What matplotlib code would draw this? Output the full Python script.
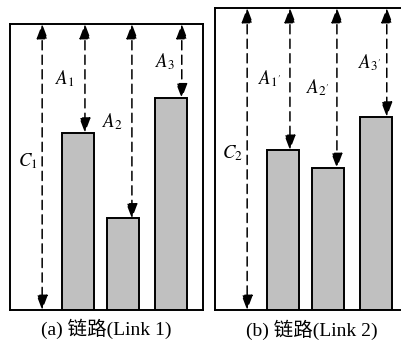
import matplotlib
matplotlib.use("Agg")
import matplotlib.pyplot as plt

plt.rcParams['font.family'] = ['Liberation Serif', 'Noto Sans CJK SC', 'DejaVu Sans']
plt.rcParams['mathtext.fontset'] = 'stix'

# bar heights per link, box top is the link capacity
capacity = [10.0, 10.0]
bars_link1 = [6.2, 3.2, 7.4]
bars_link2 = [5.3, 4.7, 6.4]
bar_labels_link1 = [r'$A_1$', r'$A_2$', r'$A_3$']
bar_labels_link2 = [r"$A_{1'}$", r"$A_{2'}$", r"$A_{3'}$"]
cap_labels = [r'$C_1$', r'$C_2$']
captions = ['(a) 链路(Link 1)', '(b) 链路(Link 2)']

xpos = [2.11, 3.51, 5.0]
cap_x = 1.0
arrow_dx = [0.22, 0.28, 0.34]
label_dx = [-0.64, -0.6, -0.52]


def dashed_arrow(ax, x, y0, y1):
    ax.annotate('', xy=(x, y0), xytext=(x, y1),
                arrowprops=dict(arrowstyle='<|-|>,head_length=0.9,head_width=0.34',
                                mutation_scale=10, color='black', lw=1.1,
                                linestyle=(0, (6, 3.5)), shrinkA=0, shrinkB=0))


def panel(ax, heights, labels, cap, cap_label, caption):
    ax.bar(xpos, heights, width=1.0, color='#c0c0c0', edgecolor='black',
           linewidth=1.4, zorder=2)
    ax.set_xlim(0, 6)
    ax.set_ylim(0, cap)
    ax.set_xticks([])
    ax.set_yticks([])
    for s in ax.spines.values():
        s.set_linewidth(1.4)

    dashed_arrow(ax, cap_x, 0, cap)
    ax.text(cap_x - 0.46, cap * 0.52, cap_label, fontsize=13.5,
            ha='center', va='center')

    for x, h, lab, dx, lx in zip(xpos, heights, labels, arrow_dx, label_dx):
        ax_x = x + dx
        dashed_arrow(ax, ax_x, h, cap)
        ax.text(ax_x + lx, (h + cap) / 2, lab, fontsize=13.5,
                ha='center', va='center')

    ax.text(0.5, -0.065, caption, transform=ax.transAxes, fontsize=14,
            ha='center', va='center')


fig = plt.figure(figsize=(4.01, 3.42), dpi=100)
ax1 = fig.add_axes([10 / 401, 32 / 342, 193 / 401, 286 / 342])
ax2 = fig.add_axes([215 / 401, 32 / 342, 193 / 401, 302 / 342])

panel(ax1, bars_link1, bar_labels_link1, capacity[0], cap_labels[0], captions[0])
panel(ax2, bars_link2, bar_labels_link2, capacity[1], cap_labels[1], captions[1])

fig.savefig('out.png', dpi=100)
